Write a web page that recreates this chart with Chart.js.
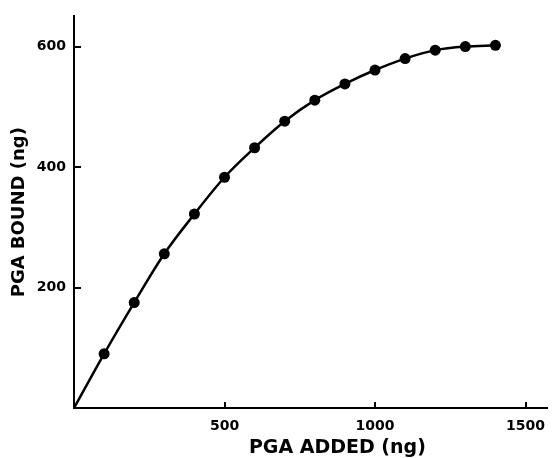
<!DOCTYPE html>
<html>
<head>
<meta charset="utf-8">
<script src="https://cdn.jsdelivr.net/npm/chart.js@4/dist/chart.umd.min.js"></script>
<style>
  html, body { margin: 0; padding: 0; background: #fff; }
  #wrap { width: 553px; height: 458px; }
</style>
</head>
<body>
<div id="wrap"><canvas id="grafico"></canvas></div>
<script>
// PGA added vs PGA bound
const addedNg = [0, 100, 200, 300, 400, 500, 600, 700, 800, 900, 1000, 1100, 1200, 1300, 1400];
const boundNg = [0, 90, 175, 256, 322, 383, 432, 476, 511, 538, 561, 580, 594, 600, 602];
const xTicks = [500, 1000, 1500];
const yTicks = [200, 400, 600];
const xTitle = 'PGA ADDED (ng)';
const yTitle = 'PGA BOUND (ng)';

const puntos = addedNg.map((x, i) => ({ x: x, y: boundNg[i] }));
const fuente = '"DejaVu Sans", "Liberation Sans", sans-serif';

// tick marks point into the plot, like the original
const marcasInternas = {
  id: 'marcasInternas',
  afterDraw(chart) {
    const ctx = chart.ctx;
    const xs = chart.scales.x, ys = chart.scales.y;
    ctx.save();
    ctx.strokeStyle = '#000';
    ctx.lineWidth = 2;
    xTicks.forEach(v => {
      const px = Math.round(xs.getPixelForValue(v));
      ctx.beginPath();
      ctx.moveTo(px, ys.bottom);
      ctx.lineTo(px, ys.bottom - 6);
      ctx.stroke();
    });
    yTicks.forEach(v => {
      const py = Math.round(ys.getPixelForValue(v));
      ctx.beginPath();
      ctx.moveTo(xs.left, py);
      ctx.lineTo(xs.left + 7, py);
      ctx.stroke();
    });
    // x title, sits a bit right of centre in the original
    ctx.fillStyle = '#000';
    ctx.font = 'bold 19px ' + fuente;
    ctx.textAlign = 'center';
    ctx.textBaseline = 'middle';
    ctx.fillText(xTitle, xs.getPixelForValue(875), 448);
    ctx.restore();
  }
};

new Chart(document.getElementById('grafico'), {
  type: 'line',
  data: {
    datasets: [{
      data: puntos,
      borderColor: '#000',
      backgroundColor: '#000',
      borderWidth: 2.5,
      cubicInterpolationMode: 'monotone',
      pointRadius: puntos.map(p => p.x === 0 ? 0 : 5.5),
      pointBackgroundColor: '#000',
      pointBorderWidth: 0,
      fill: false
    }]
  },
  options: {
    responsive: true,
    maintainAspectRatio: false,
    animation: false,
    layout: { padding: { top: 13, right: 0, bottom: 0, left: 0 } },
    plugins: { legend: { display: false }, tooltip: { enabled: false } },
    scales: {
      x: {
        type: 'linear',
        min: 0,
        max: 1573,
        afterBuildTicks: s => { s.ticks = xTicks.map(v => ({ value: v })); },
        afterFit: s => { s.height = 50; s.paddingRight = 0; s.paddingLeft = 0; },
        grid: { drawOnChartArea: false, drawTicks: false },
        border: { color: '#000', width: 2 },
        ticks: {
          color: '#000', padding: 10,
          callback: v => String(v),
          font: { family: fuente, size: 14, weight: 'bold' }
        }
      },
      y: {
        min: 0,
        max: 650,
        afterBuildTicks: s => { s.ticks = yTicks.map(v => ({ value: v })); },
        afterFit: s => { s.width = 74; },
        grid: { drawOnChartArea: false, drawTicks: false },
        border: { color: '#000', width: 2 },
        ticks: {
          color: '#000', padding: 8,
          callback: v => String(v),
          font: { family: fuente, size: 14, weight: 'bold' }
        },
        title: {
          display: true,
          text: yTitle,
          color: '#000',
          padding: { top: 9, bottom: 4 },
          font: { family: fuente, size: 18, weight: 'bold' }
        }
      }
    }
  },
  plugins: [marcasInternas]
});
</script>
</body>
</html>
